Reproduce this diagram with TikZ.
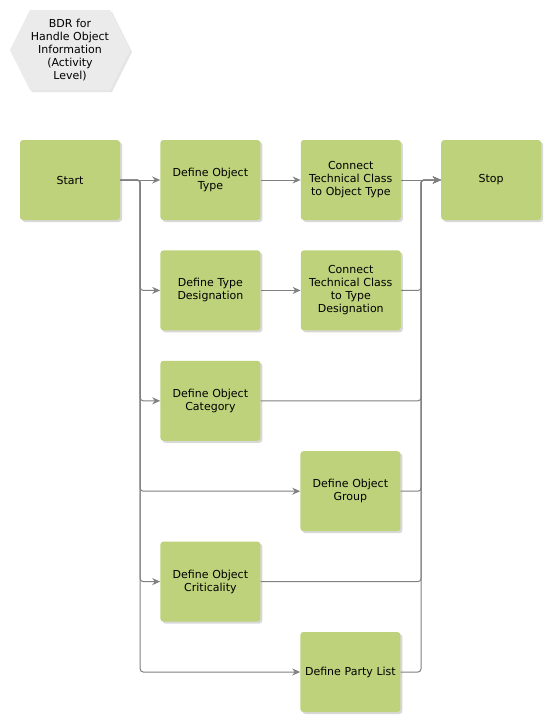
\documentclass[tikz,border=0pt]{standalone}
\usepackage{fontspec}
\setmainfont{DejaVu Sans}
\usetikzlibrary{positioning,arrows.meta,shapes.symbols,shadows,calc}
\usepackage{xcolor}
\definecolor{actgreen}{HTML}{BDD27B}
\definecolor{notegray}{HTML}{EBEBEB}
\definecolor{linegray}{HTML}{808080}

\begin{document}
\begin{tikzpicture}[
  x=1pt, y=1pt,
  font=\fontsize{11}{13}\selectfont,
  >=Stealth,
  node distance=30pt and 40pt,
  actbox/.style={fill=actgreen, rounded corners=3pt,
                 minimum width=100pt, minimum height=80pt,
                 text width=96pt, inner sep=0pt, align=center,
                 drop shadow={shadow xshift=2pt, shadow yshift=-2pt, fill=black!30}},
  titlehex/.style={shape=signal, signal to=west and east,
                   signal pointer angle=127, fill=notegray,
                   minimum width=120pt, minimum height=80pt,
                   inner sep=0pt, align=center,
                   drop shadow={shadow xshift=2pt, shadow yshift=-2pt, fill=black!20}},
  flow/.style={-{Stealth[length=8pt, width=7pt]}, linegray, line width=1pt,
               rounded corners=3pt},
]
\useasboundingbox (0,0) rectangle (550,-720);

% ---- Title ----
\node[titlehex] (title) at (70,-50) {BDR for\\Handle Object\\Information\\(Activity\\Level)};

% ---- Activities ----
\node[actbox] (start) at (70,-180) {Start};
\node[actbox, right=of start] (deftype) {Define Object\\Type};
\node[actbox, right=of deftype] (conobj) {Connect\\Technical Class\\to Object Type};
\node[actbox, right=of conobj] (stop) {Stop};
\node[actbox, below=of deftype] (deftd) {Define Type\\Designation};
\node[actbox, below=of conobj] (contd) {Connect\\Technical Class\\to Type\\Designation};
\node[actbox, below=of deftd] (defcat) {Define Object\\Category};
\node[actbox, below=10pt of defcat, xshift=140pt] (defgrp) {Define Object\\Group};
\node[actbox, below=10pt of defgrp, xshift=-140pt] (defcrit) {Define Object\\Criticality};
\node[actbox, below=10pt of defcrit, xshift=140pt] (defparty) {Define Party List};

% Split and join buses
\coordinate (lbus) at ($(start.east)+(20pt,0)$);
\coordinate (rbus) at ($(stop.west)-(20pt,0)$);

% Split from Start
\draw[flow] (start) -- (deftype);
\foreach \t in {deftd, defcat, defgrp, defcrit, defparty}
  \draw[flow] (start.east) -| (lbus |- \t) -- (\t.west);

% Sequences
\draw[flow] (deftype) -- (conobj);
\draw[flow] (deftd) -- (contd);

% Join into Stop
\draw[flow] (conobj) -- (stop);
\foreach \s in {contd, defcat, defgrp, defcrit, defparty}
  \draw[flow] (\s.east) -| (rbus) -- (stop.west);

\end{tikzpicture}
\end{document}
